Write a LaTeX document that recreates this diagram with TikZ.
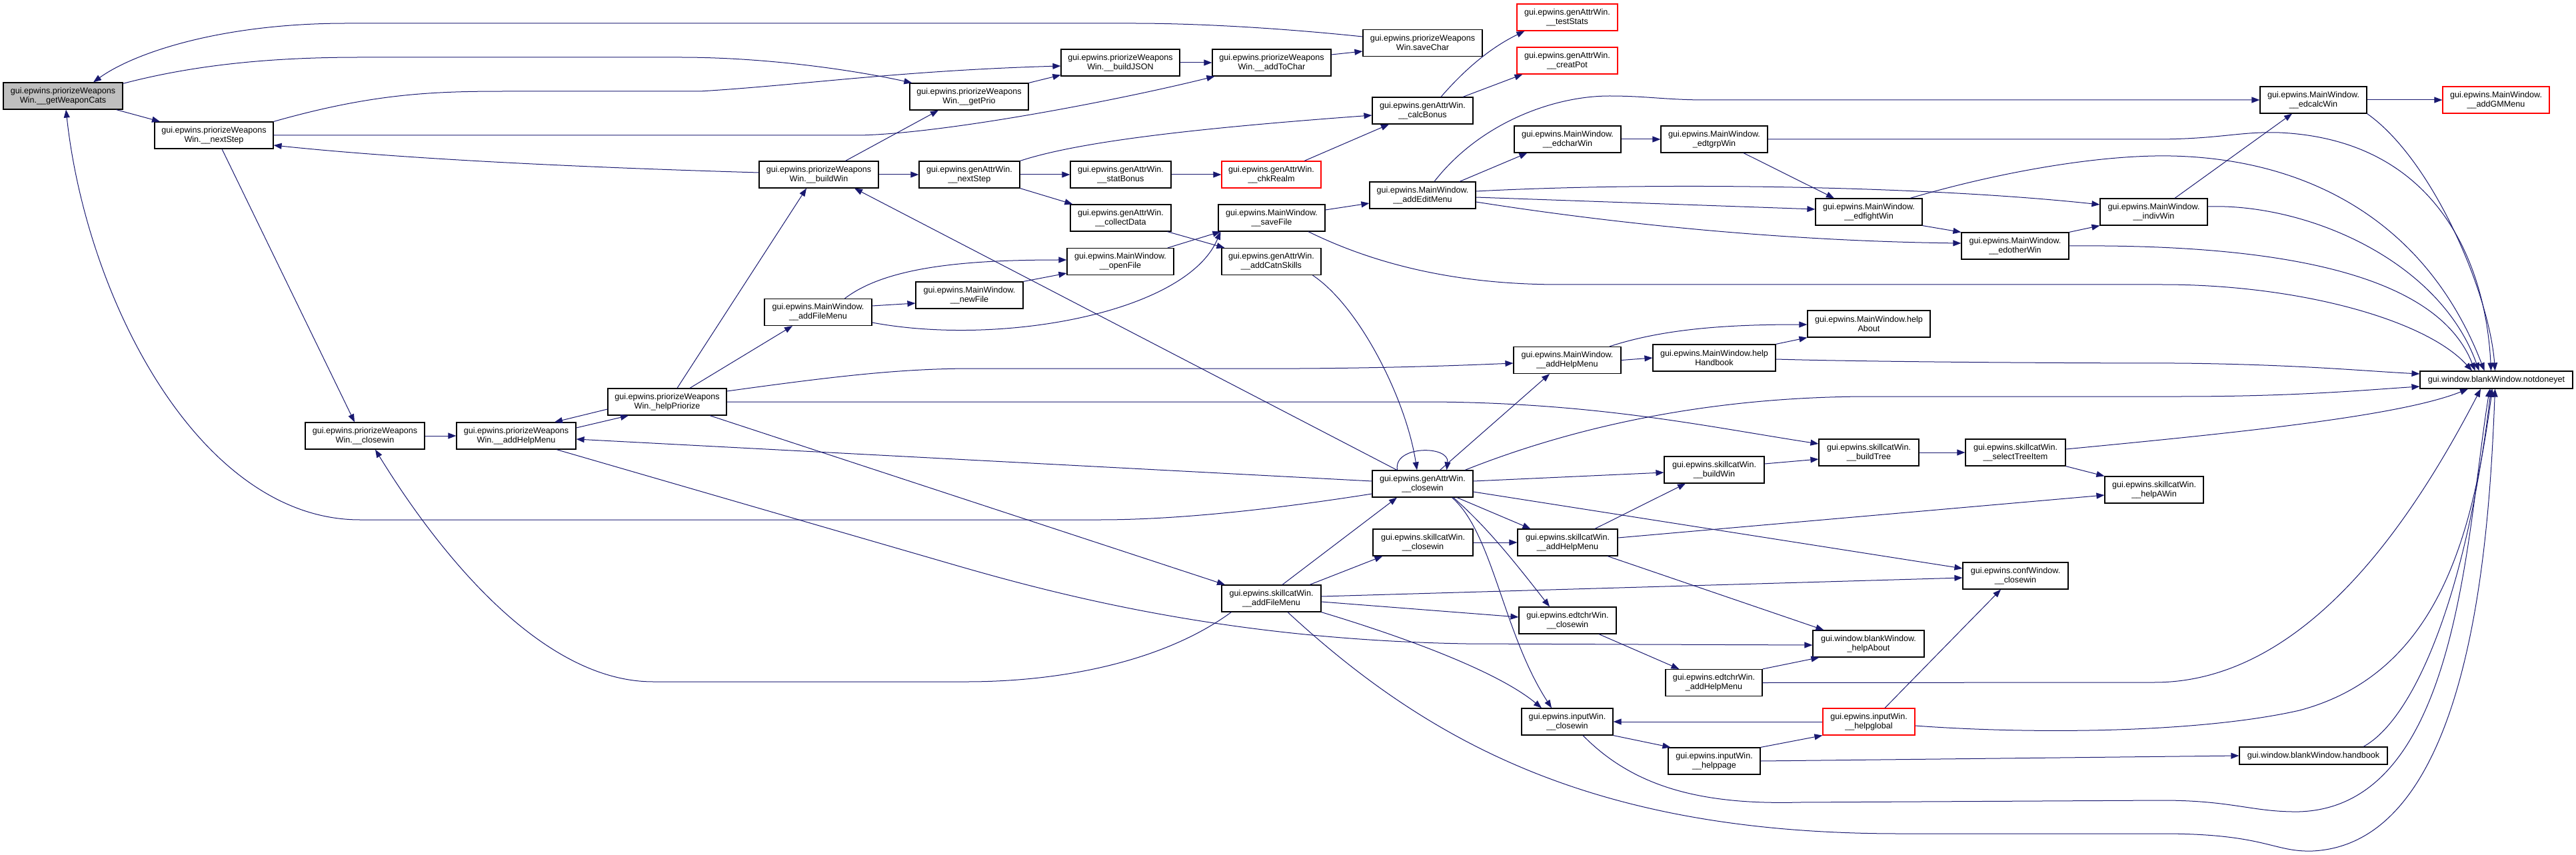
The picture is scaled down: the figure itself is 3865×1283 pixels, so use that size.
\documentclass[tikz,border=0pt]{standalone}
\usepackage{fontspec}
\setmainfont{Liberation Sans}
\usetikzlibrary{arrows.meta}
\definecolor{edgecol}{HTML}{191970}
\definecolor{redcol}{HTML}{FF0000}
\begin{document}
\begin{tikzpicture}[x=0.5pt,y=-0.5pt,
 box/.style={draw=black, line width=0.6pt, fill=white, inner sep=0pt, align=center, font=\fontsize{6.3}{7}\selectfont, minimum height=20pt},
 redbox/.style={box, draw=redcol},
 edge/.style={draw=edgecol, line width=0.5pt, -{Triangle[length=6pt,width=4.5pt]}}]
\useasboundingbox (0,0) rectangle (3865,1283);
% nodes
\node[box, minimum width=89.5pt, fill=gray!50] (gwc) at (94.5,144) {gui.epwins.priorizeWeapons\\Win.\_\_getWeaponCats};
\node[box, minimum width=89pt] (pns) at (321,203) {gui.epwins.priorizeWeapons\\Win.\_\_nextStep};
\node[box, minimum width=89.5pt] (pcw) at (547.5,654) {gui.epwins.priorizeWeapons\\Win.\_\_closewin};
\node[box, minimum width=89.5pt] (pahm) at (774.5,654) {gui.epwins.priorizeWeapons\\Win.\_\_addHelpMenu};
\node[box, minimum width=89pt] (hp) at (1001,603) {gui.epwins.priorizeWeapons\\Win.\_helpPriorize};
\node[box, minimum width=89.5pt] (bw) at (1228.5,262) {gui.epwins.priorizeWeapons\\Win.\_\_buildWin};
\node[box, minimum width=89pt] (gp) at (1454,145) {gui.epwins.priorizeWeapons\\Win.\_\_getPrio};
\node[box, minimum width=89pt] (bj) at (1681,94) {gui.epwins.priorizeWeapons\\Win.\_\_buildJSON};
\node[box, minimum width=89pt] (atc) at (1908,94) {gui.epwins.priorizeWeapons\\Win.\_\_addToChar};
\node[box, minimum width=89.5pt] (sc) at (2134.5,64.5) {gui.epwins.priorizeWeapons\\Win.saveChar};
\node[redbox, minimum width=75.5pt] (ts) at (2351.5,26) {gui.epwins.genAttrWin.\\\_\_testStats};
\node[redbox, minimum width=75.5pt] (cp) at (2351.5,91) {gui.epwins.genAttrWin.\\\_\_creatPot};
\node[box, minimum width=75.5pt] (cb) at (2134.5,166) {gui.epwins.genAttrWin.\\\_\_calcBonus};
\node[box, minimum width=75.5pt] (gns) at (1454.5,262) {gui.epwins.genAttrWin.\\\_\_nextStep};
\node[box, minimum width=75.5pt] (sb) at (1681.5,262) {gui.epwins.genAttrWin.\\\_\_statBonus};
\node[redbox, minimum width=74.5pt] (cr) at (1907.5,262) {gui.epwins.genAttrWin.\\\_\_chkRealm};
\node[box, minimum width=75.5pt] (cd) at (1681.5,327) {gui.epwins.genAttrWin.\\\_\_collectData};
\node[box, minimum width=80pt] (sf) at (1908,327) {gui.epwins.MainWindow.\\\_\_saveFile};
\node[box, minimum width=80pt] (of) at (1681,392.5) {gui.epwins.MainWindow.\\\_\_openFile};
\node[box, minimum width=74.5pt] (acs) at (1907.5,392.5) {gui.epwins.genAttrWin.\\\_\_addCatnSkills};
\node[box, minimum width=80.5pt] (nf) at (1454.5,443) {gui.epwins.MainWindow.\\\_\_newFile};
\node[box, minimum width=80.5pt] (afm) at (1227.5,468.5) {gui.epwins.MainWindow.\\\_\_addFileMenu};
\node[box, minimum width=79.5pt] (aem) at (2134.5,293) {gui.epwins.MainWindow.\\\_\_addEditMenu};
\node[box, minimum width=80pt] (ecw) at (2352,209) {gui.epwins.MainWindow.\\\_\_edcharWin};
\node[box, minimum width=80pt] (etw) at (2572,209) {gui.epwins.MainWindow.\\\_edtgrpWin};
\node[box, minimum width=80pt] (efw) at (2804,318) {gui.epwins.MainWindow.\\\_\_edfightWin};
\node[box, minimum width=80pt] (ecalc) at (3471,150) {gui.epwins.MainWindow.\\\_\_edcalcWin};
\node[redbox, minimum width=80pt] (gm) at (3745,150) {gui.epwins.MainWindow.\\\_\_addGMMenu};
\node[box, minimum width=80.5pt] (iw) at (3231.5,318) {gui.epwins.MainWindow.\\\_\_indivWin};
\node[box, minimum width=80.5pt] (eow) at (3023.5,369) {gui.epwins.MainWindow.\\\_\_edotherWin};
\node[box, minimum width=80.5pt] (mahm) at (2351.5,540.5) {gui.epwins.MainWindow.\\\_\_addHelpMenu};
\node[box, minimum width=92pt] (hh) at (2572,537) {gui.epwins.MainWindow.help\\Handbook};
\node[box, minimum width=92pt] (ha) at (2804,486) {gui.epwins.MainWindow.help\\About};
\node[box, minimum width=75pt] (bt) at (2804,679) {gui.epwins.skillcatWin.\\\_\_buildTree};
\node[box, minimum width=75.5pt] (gcw) at (2134.5,726) {gui.epwins.genAttrWin.\\\_\_closewin};
\node[box, minimum width=75pt] (sbw) at (2572,705) {gui.epwins.skillcatWin.\\\_\_buildWin};
\node[box, minimum width=75pt] (scw) at (2135,814) {gui.epwins.skillcatWin.\\\_\_closewin};
\node[box, minimum width=75pt] (sahm) at (2352,814) {gui.epwins.skillcatWin.\\\_\_addHelpMenu};
\node[box, minimum width=114.5pt, minimum height=13pt] (nd) at (3745.5,570) {gui.window.blankWindow.notdoneyet};
\node[box, minimum width=75pt] (sti) at (3024,679) {gui.epwins.skillcatWin.\\\_\_selectTreeItem};
\node[box, minimum width=74pt] (haw) at (3232,735) {gui.epwins.skillcatWin.\\\_\_helpAWin};
\node[box, minimum width=79pt] (ccw) at (3024,864) {gui.epwins.confWindow.\\\_\_closewin};
\node[box, minimum width=74.5pt] (safm) at (1907.5,898) {gui.epwins.skillcatWin.\\\_\_addFileMenu};
\node[box, minimum width=73pt] (ecc) at (2352,931) {gui.epwins.edtchrWin.\\\_\_closewin};
\node[box, minimum width=83.5pt] (bha) at (2803.5,966) {gui.window.blankWindow.\\\_helpAbout};
\node[box, minimum width=72.5pt] (eahm) at (2571.5,1024.5) {gui.epwins.edtchrWin.\\\_addHelpMenu};
\node[box, minimum width=68.5pt] (icw) at (2351.5,1083) {gui.epwins.inputWin.\\\_\_closewin};
\node[redbox, minimum width=69pt] (hg) at (2804,1083) {gui.epwins.inputWin.\\\_\_helpglobal};
\node[box, minimum width=69pt] (hpg) at (2572,1142) {gui.epwins.inputWin.\\\_\_helppage};
\node[box, minimum width=111pt, minimum height=13pt] (hb) at (3471,1134) {gui.window.blankWindow.handbook};
% edges
\draw[edge] ([yshift=4.75pt]sc.west) .. controls (1900,40) and (1780,35) .. (1700,35) -- (520,35) .. controls (330,35) and (200,80) .. ([xshift=22.75pt]gwc.north);
\draw[edge] ([yshift=-1pt]gwc.north east) .. controls (300,95) and (420,86) .. (540,86) -- (1020,86) .. controls (1150,86) and (1280,105) .. ([xshift=2pt]gp.north west);
\draw[edge] ([xshift=40pt]gwc.south) -- ([xshift=-40.5pt]pns.north);
\draw[edge] (pns.north east) .. controls (560,140) and (650,137) .. (760,137) -- (1050,137) .. controls (1200,128) and (1350,106) .. ([yshift=-2.5pt]bj.west);
\draw[edge] (pns.east) -- (1290,203) .. controls (1420,200) and (1680,150) .. ([xshift=2pt]atc.south west);
\draw[edge] ([yshift=1.5pt]bw.west) .. controls (900,252) and (620,240) .. ([yshift=-7.5pt]pns.east);
\draw[edge] ([xshift=6pt]pns.south) -- ([xshift=-7.75pt]pcw.north);
\draw[edge] ([yshift=-7.5pt]gcw.west) .. controls (1900,766) and (1760,780) .. (1650,780) -- (540,780) .. controls (300,780) and (130,450) .. ([xshift=2.25pt]gwc.south);
\draw[edge] (pcw.east) -- (pahm.west);
\draw[edge] ([yshift=-5.5pt]hp.west) -- ([xshift=28.75pt]pahm.north);
\draw[edge] ([yshift=6pt]pahm.east) -- ([xshift=-29pt]hp.south);
\draw[edge] ([yshift=2pt]gcw.west) -- ([yshift=-2.5pt]pahm.east);
\draw[edge] ([xshift=30.25pt]pahm.south) -- (1440,850) .. controls (1600,896) and (1850,960) .. (2200,966) -- ([yshift=-1pt]bha.west);
\draw[edge] ([xshift=7.5pt]hp.north) -- ([xshift=-9.25pt]bw.south);
\draw[edge] ([xshift=17pt]hp.north) -- ([xshift=-19.25pt]afm.south);
\draw[edge] ([yshift=8pt]hp.east) .. controls (1250,565) and (1350,553) .. (1460,553) -- (1950,553) .. controls (2100,552) and (2200,548) .. ([yshift=-2.25pt]mahm.west);
\draw[edge] (hp.east) -- (2150,603) .. controls (2400,605) and (2560,640) .. ([yshift=6.5pt]bt.west);
\draw[edge] ([xshift=32pt]hp.south) -- ([xshift=-34.75pt]safm.north);
\draw[edge] ([xshift=-19.25pt]gcw.north) -- ([xshift=26.75pt]bw.south);
\draw[edge] ([yshift=4.75pt]afm.east) -- ([yshift=-6pt]nf.west);
\draw[edge] ([xshift=20pt]afm.north) .. controls (1330,400) and (1450,390) .. ([yshift=1.25pt]of.west);
\draw[edge] ([yshift=-7.75pt]afm.east) .. controls (1500,520) and (1780,470) .. ([xshift=2pt]sf.south west);
\draw[edge] (nf.north east) -- ([yshift=-8.75pt]of.west);
\draw[edge] ([xshift=35.5pt]of.north) -- ([xshift=2pt]sf.south west);
\draw[edge] ([xshift=35pt]cd.south) -- ([xshift=2.5pt]acs.north west);
\draw[edge] ([xshift=20pt]bw.north) -- ([xshift=-23pt]gp.south);
\draw[edge] (gp.north east) -- ([yshift=1pt]bj.south west);
\draw[edge] (bj.east) -- (atc.west);
\draw[edge] ([yshift=6pt]atc.east) -- ([yshift=-6.25pt]sc.west);
\draw[edge] (bw.east) -- (gns.west);
\draw[edge] (gns.east) -- (sb.west);
\draw[edge] (sb.east) -- (cr.west);
\draw[edge] (gns.south east) -- ([xshift=2pt]cd.north west);
\draw[edge] (gns.north east) .. controls (1620,212) and (1800,192) .. ([yshift=-3.5pt]cb.west);
\draw[edge] ([xshift=24.75pt]cr.north) -- ([xshift=-25.25pt]cb.south);
\draw[edge] ([xshift=13.75pt]cb.north) .. controls (2210,90) and (2250,65) .. ([xshift=6pt]ts.south west);
\draw[edge] ([xshift=30.25pt]cb.north) -- ([xshift=4.5pt]cp.south west);
\draw[edge] ([yshift=6pt]sf.east) -- ([yshift=-6pt]aem.west);
\draw[edge] ([xshift=27.5pt]sf.south) .. controls (2100,415) and (2240,427) .. (2341,427) -- (3244,427) .. controls (3450,427) and (3640,480) .. ([xshift=-18.25pt]nd.north);
\draw[edge] ([xshift=8.75pt]aem.north) .. controls (2220,185) and (2330,144) .. (2415,144) .. controls (2470,144) and (2500,150) .. (2560,150) -- (ecalc.west);
\draw[edge] ([xshift=27.75pt]aem.north) -- ([xshift=10pt]ecw.south west);
\draw[edge] (ecw.east) -- (etw.west);
\draw[edge] ([xshift=22pt]etw.south) -- ([xshift=-26pt]efw.north);
\draw[edge] (etw.east) -- (3232,209) .. controls (3330,209) and (3360,197) .. (3420,199) .. controls (3660,210) and (3730,400) .. ([xshift=-4pt]nd.north);
\draw[edge] ([yshift=3pt]aem.east) .. controls (2500,272) and (2900,280) .. ([yshift=5.5pt]iw.west);
\draw[edge] ([yshift=-1.5pt]aem.east) -- ([yshift=2pt]efw.west);
\draw[edge] ([yshift=-5pt]aem.east) .. controls (2450,340) and (2700,362) .. ([yshift=2pt]eow.west);
\draw[edge] ([xshift=31pt]efw.north) .. controls (3000,258) and (3150,232) .. (3257,234) .. controls (3460,238) and (3640,330) .. ([xshift=-9pt]nd.north);
\draw[edge] (efw.south east) -- (eow.north west);
\draw[edge] (eow.north east) -- (iw.south west);
\draw[edge] ([xshift=15.75pt]iw.north) -- ([xshift=-16pt]ecalc.south);
\draw[edge] (ecalc.east) -- (gm.west);
\draw[edge] (ecalc.south east) .. controls (3650,240) and (3735,440) .. ([xshift=-1pt]nd.north);
\draw[edge] ([yshift=4pt]iw.east) .. controls (3460,305) and (3660,390) .. ([xshift=-13pt]nd.north);
\draw[edge] (eow.east) .. controls (3450,366) and (3660,420) .. ([xshift=-16pt]nd.north);
\draw[edge] ([yshift=-1pt]hh.east) .. controls (2800,543) and (3100,545) .. (3269,545) .. controls (3450,547) and (3550,557) .. ([yshift=4.5pt]nd.west);
\draw[edge] ([xshift=31.75pt]gcw.north) .. controls (2350,645) and (2550,596) .. (2800,595) -- (3269,595) .. controls (3450,595) and (3550,585) .. ([yshift=-5pt]nd.west);
\draw[edge] ([xshift=-19pt]gcw.north) .. controls (2090,668) and (2175,668) .. ([xshift=18pt]gcw.north);
\draw[edge] ([xshift=13pt]gcw.north) -- ([xshift=-13.25pt]mahm.south);
\draw[edge] ([xshift=31pt]acs.south) .. controls (2040,460) and (2110,600) .. ([xshift=-4.25pt]gcw.north);
\draw[edge] (mahm.east) -- (hh.west);
\draw[edge] ([xshift=31.75pt]mahm.north) .. controls (2500,492) and (2600,487) .. ([yshift=-0.5pt]ha.west);
\draw[edge] (hh.north east) -- (ha.south west);
\draw[edge] ([yshift=2pt]gcw.east) -- ([yshift=-2pt]sbw.west);
\draw[edge] ([yshift=4.5pt]sbw.east) -- ([yshift=-5pt]bt.west);
\draw[edge] (bt.east) -- (sti.west);
\draw[edge] (sti.south east) -- (haw.north west);
\draw[edge] ([yshift=3.5pt]sahm.east) -- ([yshift=-4pt]haw.west);
\draw[edge] ([xshift=20.5pt]sahm.north) -- ([xshift=-21.5pt]sbw.south);
\draw[edge] ([xshift=25.75pt]gcw.south) -- ([xshift=10pt]sahm.north west);
\draw[edge] (scw.east) -- (sahm.west);
\draw[edge] ([xshift=28.75pt]safm.north) -- ([xshift=7.5pt]scw.south west);
\draw[edge] ([xshift=8.25pt]safm.north) -- ([xshift=-19.25pt]gcw.south);
\draw[edge] ([xshift=22pt]gcw.south) .. controls (2240,800) and (2255,950) .. ([xshift=-11.75pt]icw.north);
\draw[edge] ([xshift=23pt]gcw.south) .. controls (2230,790) and (2270,840) .. ([xshift=-13.5pt]ecc.north);
\draw[edge] ([xshift=30pt]sahm.south) -- ([xshift=8.5pt]bha.north west);
\draw[edge] ([yshift=-6pt]gcw.east) -- ([yshift=5.5pt]ccw.west);
\draw[edge] ([yshift=-2.5pt]safm.east) -- ([yshift=2.5pt]ecc.west);
\draw[edge] (safm.south east) .. controls (2120,960) and (2250,1010) .. ([xshift=-19.25pt]icw.north);
\draw[edge] ([yshift=1.5pt]safm.east) -- ([yshift=-1.5pt]ccw.west);
\draw[edge] ([xshift=12.25pt]safm.south) .. controls (2150,1120) and (2400,1251) .. (2850,1251) -- (3244,1251) .. controls (3400,1251) and (3410,1279) .. (3470,1277) .. controls (3710,1265) and (3735,800) .. ([xshift=-1pt]nd.south);
\draw[edge] ([xshift=11.75pt]icw.south) .. controls (2450,1180) and (2550,1208) .. (2700,1204) -- (3244,1201) .. controls (3350,1201) and (3380,1219) .. (3450,1218) .. controls (3690,1210) and (3700,800) .. ([xshift=-5pt]nd.south);
\draw[edge] (hg.west) -- (icw.east);
\draw[edge] (icw.south east) -- ([xshift=2pt]hpg.north west);
\draw[edge] (hpg.north east) -- (hg.south west);
\draw[edge] (hpg.east) -- (hb.west);
\draw[edge] ([xshift=12pt]hg.north) -- ([xshift=-11pt]ccw.south);
\draw[edge] ([yshift=-3pt]hg.east) .. controls (3050,1102) and (3300,1100) .. (3450,1066) .. controls (3660,1010) and (3710,800) .. ([xshift=-3pt]nd.south);
\draw[edge] (eahm.east) -- (3232,1024) .. controls (3460,1024) and (3620,780) .. ([xshift=-11.75pt]nd.south);
\draw[edge] ([xshift=37.5pt]hb.north) .. controls (3620,1080) and (3700,900) .. ([xshift=-4pt]nd.south);
\draw[edge] ([yshift=2.5pt]sti.east) .. controls (3350,650) and (3600,625) .. ([xshift=-21.25pt]nd.south);
\draw[edge] (eahm.north east) -- ([xshift=5pt]bha.south west);
\draw[edge] ([xshift=23.5pt]ecc.south) -- ([xshift=10.5pt]eahm.north west);
\draw[edge] ([xshift=7.5pt]safm.south west) .. controls (1750,990) and (1600,1023) .. (1450,1023) -- (980,1023) .. controls (800,1023) and (640,800) .. ([xshift=7.75pt]pcw.south);
\end{tikzpicture}
\end{document}
